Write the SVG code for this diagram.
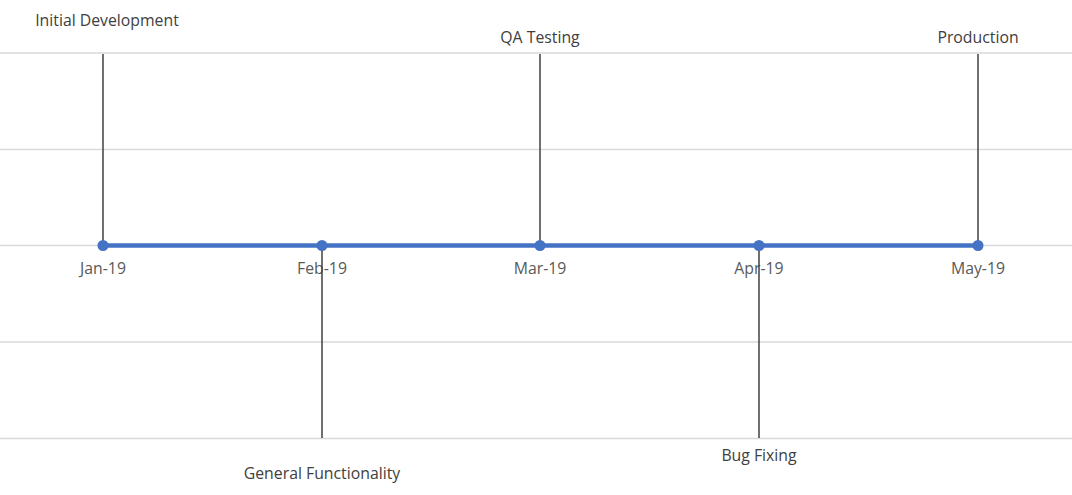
<svg xmlns="http://www.w3.org/2000/svg" width="1072" height="495" viewBox="0 0 1072 495">
<style>
.grid{stroke:#d9d9d9;stroke-width:1.5}
.stem{stroke:#404040;stroke-width:1.5}
.axis{stroke:#4472c4;stroke-width:4.5}
.dot{fill:#4472c4}
text{font-family:"Segoe UI","Open Sans","Noto Sans",sans-serif;font-size:15.8px;fill:#595959;text-anchor:middle}
.lbl{fill:#404040}
</style>
<rect width="1072" height="495" fill="#ffffff"/>
<g id="gridlines">
<line class="grid" x1="0" y1="53" x2="1072" y2="53"/>
<line class="grid" x1="0" y1="149.5" x2="1072" y2="149.5"/>
<line class="grid" x1="0" y1="245.5" x2="1072" y2="245.5"/>
<line class="grid" x1="0" y1="342" x2="1072" y2="342"/>
<line class="grid" x1="0" y1="438.5" x2="1072" y2="438.5"/>
</g>
<g id="axis-labels">
<text x="103" y="274">Jan-19</text>
<text x="322" y="274">Feb-19</text>
<text x="540" y="274">Mar-19</text>
<text x="759" y="274">Apr-19</text>
<text x="978" y="274">May-19</text>
</g>
<g id="connectors">
<line class="stem" x1="103" y1="54" x2="103" y2="245"/>
<line class="stem" x1="322" y1="245" x2="322" y2="438"/>
<line class="stem" x1="540" y1="54" x2="540" y2="245"/>
<line class="stem" x1="759" y1="245" x2="759" y2="438"/>
<line class="stem" x1="978" y1="54" x2="978" y2="245"/>
<line class="axis" x1="103" y1="245.5" x2="978" y2="245.5"/>
</g>
<g id="node-jan"><circle class="dot" cx="103" cy="245.5" r="5.5"/><text class="lbl" x="107" y="26">Initial Development</text></g>
<g id="node-feb"><circle class="dot" cx="322" cy="245.5" r="5.5"/><text class="lbl" x="322" y="479">General Functionality</text></g>
<g id="node-mar"><circle class="dot" cx="540" cy="245.5" r="5.5"/><text class="lbl" x="540" y="43">QA Testing</text></g>
<g id="node-apr"><circle class="dot" cx="759" cy="245.5" r="5.5"/><text class="lbl" x="759" y="461">Bug Fixing</text></g>
<g id="node-may"><circle class="dot" cx="978" cy="245.5" r="5.5"/><text class="lbl" x="978" y="43">Production</text></g>
</svg>
